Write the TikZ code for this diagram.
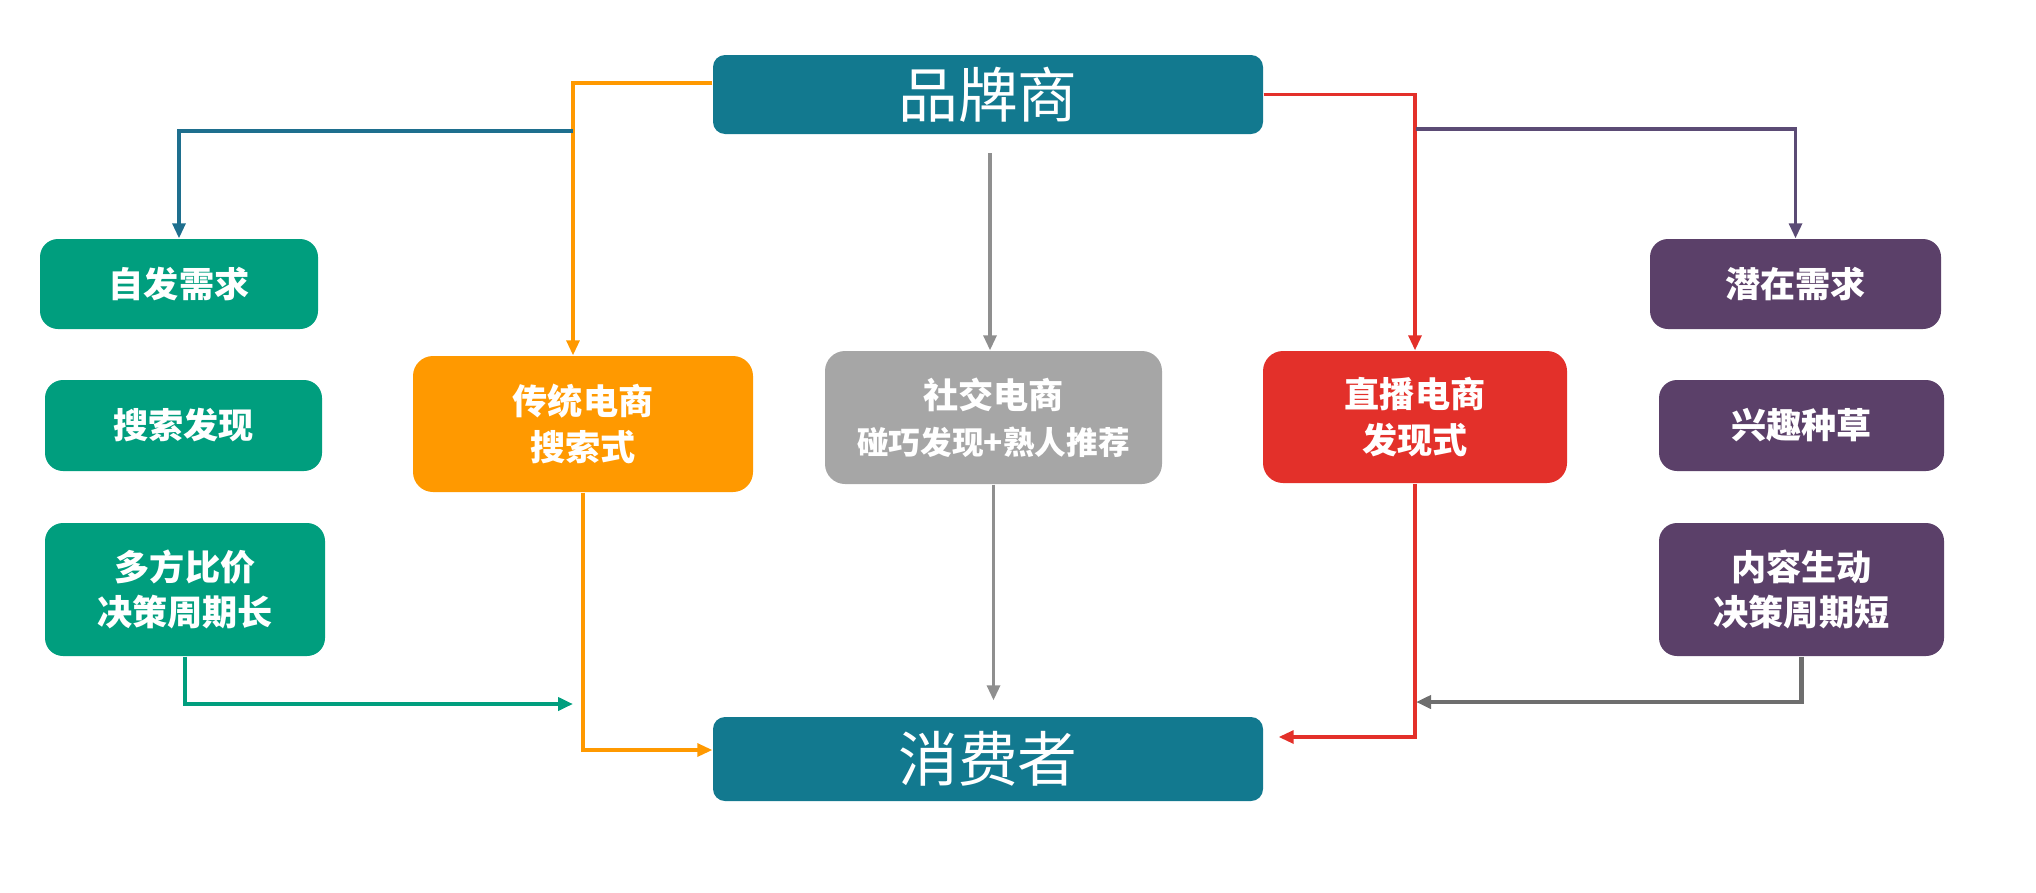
\documentclass[tikz,border=0pt]{standalone}
\usepackage{fontspec}
\newfontfamily\cjk{Noto Sans CJK SC}
\usetikzlibrary{arrows.meta}
\definecolor{brandblue}{HTML}{12798F}
\definecolor{leftgreen}{HTML}{009E7E}
\definecolor{chorange}{HTML}{FF9900}
\definecolor{chgray}{HTML}{A6A6A6}
\definecolor{chred}{HTML}{E3302A}
\definecolor{rpurple}{HTML}{5B4069}
\definecolor{lblue}{HTML}{1E6F8E}
\definecolor{lpurple}{HTML}{5B4B75}
\definecolor{lgray}{HTML}{8F8F8F}
\definecolor{ldgray}{HTML}{6E6E6E}

\begin{document}
\begin{tikzpicture}[
  bigbox/.style={fill=brandblue,rounded corners=0.12cm,minimum width=5.5cm,text=white,font=\cjk\fontsize{17}{20}\selectfont,inner sep=0pt},
  sidebox/.style={rounded corners=0.18cm,text=white,align=center,font=\cjk\bfseries\fontsize{10}{13}\selectfont,inner sep=0pt},
  chbox/.style={rounded corners=0.2cm,text=white,align=center,font=\cjk\bfseries\fontsize{10}{13}\selectfont,inner sep=0pt},
  conn/.style={line width=0.9pt,-{Triangle[length=0.15cm,width=0.13cm]}},
]
\useasboundingbox (0,0) rectangle (20.36,-8.92);

% top and bottom
\node[bigbox,minimum height=0.79cm] (brand) at (9.88,-0.945) {品牌商};
\node[bigbox,minimum height=0.84cm] (consumer) at (9.88,-7.59) {消费者};

% left column
\node[sidebox,fill=leftgreen,minimum width=2.78cm,minimum height=0.9cm] (zifa) at (1.79,-2.84) {自发需求};
\node[sidebox,fill=leftgreen,minimum width=2.77cm,minimum height=0.91cm] (sousuo) at (1.835,-4.255) {搜索发现};
\node[sidebox,fill=leftgreen,minimum width=2.8cm,minimum height=1.33cm] (duofang) at (1.85,-5.895) {多方比价\\决策周期长};

% channels
\node[chbox,fill=chorange,minimum width=3.4cm,minimum height=1.36cm] (chuantong) at (5.83,-4.24) {传统电商\\搜索式};
\node[chbox,fill=chgray,minimum width=3.37cm,minimum height=1.33cm] (shejiao) at (9.935,-4.175) {社交电商\\{\fontsize{9}{13}\selectfont 碰巧发现+熟人推荐}};
\node[chbox,fill=chred,minimum width=3.04cm,minimum height=1.32cm] (zhibo) at (14.15,-4.17) {直播电商\\发现式};

% right column
\node[sidebox,fill=rpurple,minimum width=2.91cm,minimum height=0.9cm] (qianzai) at (17.955,-2.84) {潜在需求};
\node[sidebox,fill=rpurple,minimum width=2.85cm,minimum height=0.91cm] (xingqu) at (18.015,-4.255) {兴趣种草};
\node[sidebox,fill=rpurple,minimum width=2.85cm,minimum height=1.33cm] (neirong) at (18.015,-5.895) {内容生动\\决策周期短};

% branch points
\coordinate (bsplit) at (5.73,-1.31);
\coordinate (gtop) at (9.90,-1.53);
\coordinate (psplit) at (14.16,-1.29);
\coordinate (rjoin) at (14.16,-7.02);
\coordinate (gjoin) at (5.73,-7.04);

% from brand
\draw[conn,chorange] ([yshift=0.115cm]brand.west) -| ([xshift=-0.1cm]chuantong.north);
\draw[conn,lblue] (bsplit) -| (zifa.north);
\draw[conn,lgray] (gtop) -- (shejiao.north -| gtop);
\draw[conn,chred] (brand.east) -| (zhibo.north);
\draw[conn,lpurple] (psplit) -| (qianzai.north);

% to consumer
\draw[conn,leftgreen,line width=1.2pt] (duofang.south) |- (gjoin);
\draw[conn,chorange] (chuantong.south) |- ([yshift=0.09cm]consumer.west);
\draw[conn,lgray,shorten >=0.16cm] (shejiao.south) -- (shejiao.south |- consumer.north);
\draw[conn,chred,shorten >=0.15cm] (zhibo.south) |- ([yshift=0.22cm]consumer.east);
\draw[conn,ldgray,line width=1.2pt] (neirong.south) |- (rjoin);
\end{tikzpicture}
\end{document}
